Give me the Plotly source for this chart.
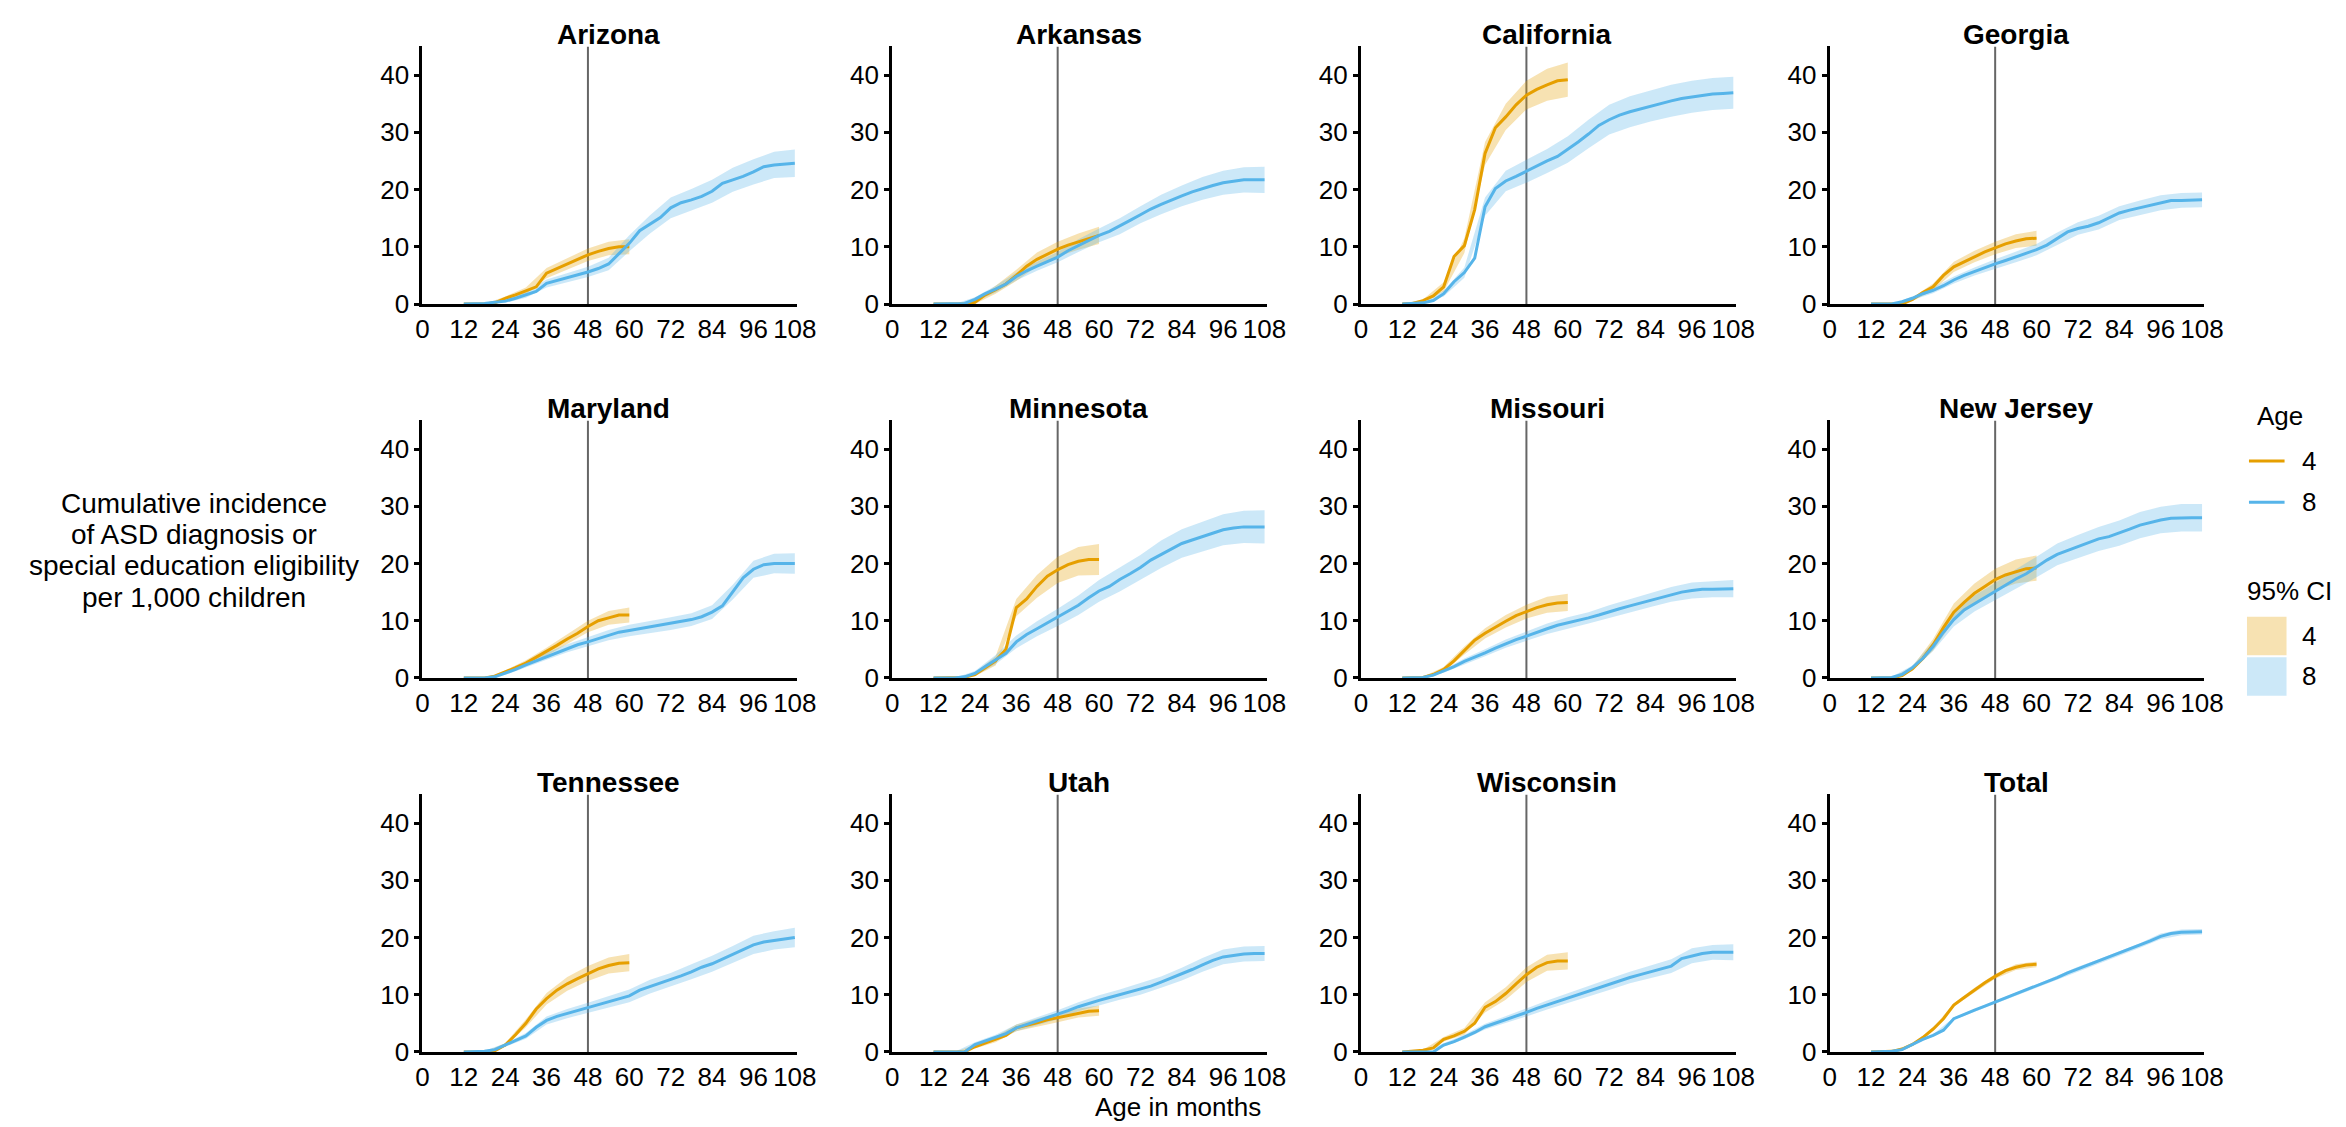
import plotly.graph_objects as go

# ---------------- data ----------------
STATES = ["Arizona", "Arkansas", "California", "Georgia",
          "Maryland", "Minnesota", "Missouri", "New Jersey",
          "Tennessee", "Utah", "Wisconsin", "Total"]

X_TICKS = [0, 12, 24, 36, 48, 60, 72, 84, 96, 108]
Y_TICKS = [0, 10, 20, 30, 40]
REF_MONTH = 48

MONTHS_8 = [12, 15, 18, 21, 24, 27, 30, 33, 36, 39, 42, 45, 48, 51, 54, 57, 60,
            63, 66, 69, 72, 75, 78, 81, 84, 87, 90, 93, 96, 99, 102, 105, 108]
MONTHS_4 = [12, 15, 18, 21, 24, 27, 30, 33, 36, 39, 42, 45, 48, 51, 54, 57, 60]
CI_MONTHS_8 = [12, 18, 24, 30, 36, 42, 48, 54, 60, 66, 72, 78, 84, 90, 96, 102, 108]
CI_MONTHS_4 = [12, 18, 24, 30, 36, 42, 48, 54, 60]

ARIZONA_8 = [0, 0, 0.1, 0.3, 0.5, 1.0, 1.6, 2.2, 3.6, 4.1, 4.6, 5.0, 5.6, 6.2, 7.0, 8.8, 10.6,
             12.8, 13.9, 15.1, 16.8, 17.7, 18.2, 18.8, 19.7, 21.1, 21.7, 22.3, 23.1, 24.0, 24.3, 24.5, 24.6]
ARIZONA_8_LO = [0, 0, 0.2, 1.1, 2.9, 3.8, 4.7, 5.9, 9.2, 12.3, 15.0, 16.3, 17.7, 19.6, 20.9, 22.0, 22.2]
ARIZONA_8_HI = [0, 0.2, 0.8, 2.1, 4.3, 5.4, 6.5, 8.1, 12.0, 15.5, 18.6, 20.1, 21.7, 23.8, 25.3, 26.6, 27.0]
ARIZONA_4 = [0, 0, 0, 0.2, 1.0, 1.6, 2.3, 3.0, 5.4, 6.2, 7.0, 7.9, 8.6, 9.2, 9.7, 10.0, 10.0]
ARIZONA_4_LO = [0, 0, 0.7, 1.7, 4.5, 6.0, 7.5, 8.5, 8.7]
ARIZONA_4_HI = [0, 0, 1.3, 2.9, 6.3, 8.0, 9.7, 10.9, 11.3]

ARKANSAS_8 = [0, 0, 0, 0.1, 0.8, 1.8, 2.6, 3.5, 4.8, 5.8, 6.6, 7.4, 8.2, 9.3, 10.2, 11.0, 12.0,
              12.7, 13.6, 14.6, 15.6, 16.6, 17.4, 18.2, 18.9, 19.6, 20.2, 20.7, 21.2, 21.5, 21.7, 21.7, 21.7]
ARKANSAS_8_LO = [0, 0, 0.4, 2.0, 4.1, 5.8, 7.3, 9.1, 10.8, 12.2, 14.1, 15.7, 17.1, 18.2, 19.1, 19.5, 19.4]
ARKANSAS_8_HI = [0, 0, 1.2, 3.2, 5.5, 7.4, 9.1, 11.3, 13.2, 15.0, 17.1, 19.1, 20.7, 22.2, 23.3, 23.9, 24.0]
ARKANSAS_4 = [0, 0, 0, 0, 0.3, 1.6, 2.5, 3.5, 5.0, 6.6, 7.8, 8.7, 9.6, 10.3, 10.9, 11.5, 12.0]
ARKANSAS_4_LO = [0, 0, 0, 1.8, 4.0, 6.6, 8.3, 9.5, 10.5]
ARKANSAS_4_HI = [0, 0, 0.6, 3.2, 6.0, 9.0, 10.9, 12.3, 13.5]

CALIFORNIA_8 = [0, 0.05, 0.2, 0.6, 1.8, 3.9, 5.5, 8.0, 17.0, 20.2, 21.5, 22.3, 23.2, 24.2, 25.0, 25.8, 27.0,
                28.3, 29.7, 31.2, 32.2, 33.0, 33.6, 34.1, 34.6, 35.1, 35.5, 35.9, 36.2, 36.5, 36.7, 36.8, 36.9]
CALIFORNIA_8_LO = [0, 0.1, 1.3, 4.6, 15.4, 19.7, 21.2, 22.9, 24.7, 27.2, 29.6, 30.9, 31.9, 32.7, 33.4, 33.9, 34.1]
CALIFORNIA_8_HI = [0, 0.3, 2.3, 6.4, 18.6, 23.3, 25.2, 27.1, 29.3, 32.2, 34.8, 36.3, 37.3, 38.3, 39.0, 39.5, 39.7]
CALIFORNIA_4 = [0, 0.1, 0.6, 1.4, 3.0, 8.3, 10.2, 16.5, 26.3, 30.8, 32.7, 34.8, 36.5, 37.5, 38.3, 39.0, 39.2]
CALIFORNIA_4_LO = [0, 0.4, 2.2, 8.9, 24.3, 30.4, 34.0, 35.5, 36.2]
CALIFORNIA_4_HI = [0, 0.8, 3.8, 11.5, 28.3, 35.0, 39.0, 41.1, 42.2]

GEORGIA_8 = [0, 0, 0, 0.4, 1.0, 1.8, 2.4, 3.2, 4.2, 5.0, 5.7, 6.3, 7.0, 7.6, 8.2, 8.8, 9.5,
             10.3, 11.4, 12.6, 13.2, 13.6, 14.2, 15.0, 15.9, 16.4, 16.8, 17.3, 17.7, 18.1, 18.1, 18.2, 18.2]
GEORGIA_8_LO = [0, 0, 0.7, 1.9, 3.6, 5.0, 6.2, 7.3, 8.5, 10.3, 12.1, 13.0, 14.7, 15.5, 16.4, 16.8, 16.9]
GEORGIA_8_HI = [0, 0, 1.3, 2.9, 4.8, 6.4, 7.8, 9.1, 10.5, 12.5, 14.3, 15.4, 17.1, 18.1, 19.0, 19.4, 19.5]
GEORGIA_4 = [0, 0, 0, 0, 0.8, 2.0, 3.0, 5.0, 6.5, 7.4, 8.3, 9.1, 9.8, 10.5, 11.0, 11.4, 11.5]
GEORGIA_4_LO = [0, 0, 0.5, 2.4, 5.6, 7.3, 8.7, 9.8, 10.2]
GEORGIA_4_HI = [0, 0, 1.1, 3.6, 7.4, 9.3, 10.9, 12.2, 12.8]

MARYLAND_8 = [0, 0, 0, 0.2, 0.8, 1.5, 2.3, 3.0, 3.8, 4.5, 5.2, 5.8, 6.3, 6.9, 7.5, 8.0, 8.3,
              8.6, 8.9, 9.2, 9.5, 9.9, 10.2, 10.7, 11.5, 12.6, 15.0, 17.5, 19.0, 19.8, 20.0, 20.0, 20.0]
MARYLAND_8_LO = [0, 0, 0.5, 1.8, 3.2, 4.5, 5.5, 6.6, 7.3, 7.9, 8.4, 9.1, 10.3, 13.7, 17.5, 18.3, 18.2]
MARYLAND_8_HI = [0, 0, 1.1, 2.8, 4.4, 5.9, 7.1, 8.4, 9.3, 9.9, 10.6, 11.3, 12.7, 16.3, 20.5, 21.7, 21.8]
MARYLAND_4 = [0, 0, 0, 0.3, 1.0, 1.8, 2.6, 3.6, 4.6, 5.7, 6.8, 7.8, 9.0, 10.0, 10.5, 11.0, 11.0]
MARYLAND_4_LO = [0, 0, 0.7, 2.1, 3.9, 5.9, 8.0, 9.3, 9.7]
MARYLAND_4_HI = [0, 0, 1.3, 3.1, 5.3, 7.7, 10.0, 11.7, 12.3]

MINNESOTA_8 = [0, 0, 0, 0.2, 0.8, 2.0, 3.2, 4.3, 6.3, 7.6, 8.6, 9.6, 10.6, 11.6, 12.7, 14.0, 15.2,
               16.0, 17.2, 18.2, 19.3, 20.6, 21.6, 22.6, 23.5, 24.1, 24.7, 25.3, 25.9, 26.2, 26.4, 26.4, 26.4]
MINNESOTA_8_LO = [0, 0, 0.4, 2.4, 5.2, 7.3, 9.1, 11.0, 13.3, 15.1, 17.1, 19.2, 21.0, 22.1, 23.2, 23.6, 23.5]
MINNESOTA_8_HI = [0, 0, 1.2, 4.0, 7.4, 9.9, 12.1, 14.4, 17.1, 19.3, 21.5, 24.0, 26.0, 27.3, 28.6, 29.2, 29.3]
MINNESOTA_4 = [0, 0, 0, 0.1, 0.6, 1.8, 3.0, 5.0, 12.3, 13.8, 16.0, 17.8, 18.9, 19.8, 20.4, 20.7, 20.7]
MINNESOTA_4_LO = [0, 0, 0.3, 2.2, 10.8, 14.0, 16.6, 17.9, 18.0]
MINNESOTA_4_HI = [0, 0, 0.9, 3.8, 13.8, 18.0, 21.2, 22.9, 23.4]

MISSOURI_8 = [0, 0, 0.1, 0.5, 1.2, 2.0, 2.9, 3.6, 4.4, 5.2, 6.0, 6.7, 7.3, 8.0, 8.6, 9.2, 9.6,
              10.0, 10.5, 11.0, 11.6, 12.1, 12.6, 13.1, 13.6, 14.1, 14.6, 15.0, 15.3, 15.5, 15.5, 15.6, 15.6]
MISSOURI_8_LO = [0, 0, 0.9, 2.4, 3.8, 5.3, 6.5, 7.7, 8.6, 9.5, 10.5, 11.4, 12.4, 13.3, 13.9, 14.1, 14.1]
MISSOURI_8_HI = [0, 0.2, 1.5, 3.4, 5.0, 6.7, 8.1, 9.5, 10.6, 11.5, 12.7, 13.8, 14.8, 15.9, 16.7, 16.9, 17.1]
MISSOURI_4 = [0, 0, 0.1, 0.6, 1.5, 3.0, 4.8, 6.6, 7.8, 8.9, 9.9, 10.9, 11.6, 12.3, 12.8, 13.1, 13.2]
MISSOURI_4_LO = [0, 0, 1.1, 4.1, 6.9, 8.8, 10.4, 11.4, 11.7]
MISSOURI_4_HI = [0, 0.2, 1.9, 5.5, 8.7, 11.0, 12.8, 14.2, 14.7]

NEW_JERSEY_8 = [0, 0, 0.1, 0.6, 1.8, 3.4, 5.5, 8.0, 10.2, 11.9, 13.0, 14.0, 15.1, 16.2, 17.3, 18.2, 19.4,
                20.6, 21.6, 22.3, 23.0, 23.6, 24.3, 24.7, 25.3, 26.0, 26.7, 27.2, 27.6, 27.9, 28.0, 28.0, 28.0]
NEW_JERSEY_8_LO = [0, 0, 1.4, 4.7, 9.0, 11.6, 13.6, 15.6, 17.6, 19.7, 21.0, 22.2, 23.1, 24.4, 25.3, 25.6, 25.6]
NEW_JERSEY_8_HI = [0, 0.2, 2.2, 6.3, 11.4, 14.4, 16.6, 19.0, 21.2, 23.5, 25.0, 26.4, 27.5, 29.0, 29.9, 30.4, 30.4]
NEW_JERSEY_4 = [0, 0, 0, 0.4, 1.6, 3.4, 5.8, 8.8, 11.5, 13.2, 14.8, 16.0, 17.2, 18.0, 18.6, 19.1, 19.2]
NEW_JERSEY_4_LO = [0, 0, 1.2, 4.8, 10.0, 13.1, 15.3, 16.5, 17.0]
NEW_JERSEY_4_HI = [0, 0, 2.0, 6.8, 13.0, 16.5, 19.1, 20.7, 21.4]

TENNESSEE_8 = [0, 0, 0.1, 0.4, 1.2, 2.0, 2.8, 4.3, 5.5, 6.2, 6.7, 7.2, 7.7, 8.3, 8.8, 9.3, 9.8,
               10.8, 11.4, 12.0, 12.6, 13.3, 14.0, 14.8, 15.4, 16.2, 17.0, 17.8, 18.7, 19.2, 19.5, 19.8, 20.0]
TENNESSEE_8_LO = [0, 0, 0.9, 2.3, 4.8, 5.9, 6.8, 7.8, 8.7, 10.2, 11.4, 12.7, 14.0, 15.5, 17.1, 17.9, 18.3]
TENNESSEE_8_HI = [0, 0.2, 1.5, 3.3, 6.2, 7.5, 8.6, 9.8, 10.9, 12.6, 13.8, 15.3, 16.8, 18.5, 20.3, 21.1, 21.7]
TENNESSEE_4 = [0, 0, 0, 0.2, 1.2, 3.0, 5.0, 7.5, 9.3, 10.8, 11.9, 12.8, 13.7, 14.5, 15.1, 15.5, 15.6]
TENNESSEE_4_LO = [0, 0, 0.9, 4.3, 8.3, 10.7, 12.4, 13.7, 14.1]
TENNESSEE_4_HI = [0, 0, 1.5, 5.7, 10.3, 13.1, 15.0, 16.5, 17.1]

UTAH_8 = [0, 0, 0, 0, 1.3, 1.9, 2.5, 3.2, 4.2, 4.8, 5.3, 5.9, 6.5, 7.2, 7.9, 8.5, 9.0,
          9.5, 10.0, 10.6, 11.0, 11.5, 12.2, 12.9, 13.6, 14.4, 15.2, 16.0, 16.6, 16.9, 17.1, 17.2, 17.2]
UTAH_8_LO = [0, 0, 0.9, 2.0, 3.6, 4.6, 5.7, 7.1, 8.1, 9.1, 10.0, 11.2, 12.5, 14.0, 15.3, 15.8, 15.9]
UTAH_8_HI = [0, 0, 1.7, 3.0, 4.8, 6.0, 7.3, 8.7, 9.9, 10.9, 12.0, 13.2, 14.7, 16.4, 17.9, 18.4, 18.5]
UTAH_4 = [0, 0, 0, 0, 0.9, 1.6, 2.2, 2.9, 4.2, 4.6, 5.1, 5.6, 6.0, 6.4, 6.8, 7.1, 7.2]
UTAH_4_LO = [0, 0, 0.6, 1.7, 3.6, 4.4, 5.2, 6.0, 6.3]
UTAH_4_HI = [0, 0, 1.2, 2.7, 4.8, 5.8, 6.8, 7.6, 8.1]

WISCONSIN_8 = [0, 0, 0, 0, 1.2, 1.8, 2.6, 3.4, 4.4, 5.0, 5.6, 6.2, 6.9, 7.6, 8.2, 8.9, 9.4,
               10.0, 10.6, 11.2, 11.8, 12.4, 13.0, 13.5, 14.0, 14.5, 15.0, 16.3, 16.8, 17.2, 17.4, 17.4, 17.4]
WISCONSIN_8_LO = [0, 0, 0.9, 2.2, 3.9, 5.0, 6.2, 7.4, 8.5, 9.7, 10.8, 12.0, 12.9, 13.8, 15.5, 16.1, 16.0]
WISCONSIN_8_HI = [0, 0, 1.5, 3.0, 4.9, 6.2, 7.6, 9.0, 10.3, 11.5, 12.8, 14.0, 15.1, 16.2, 18.1, 18.7, 18.8]
WISCONSIN_4 = [0, 0.1, 0.3, 0.7, 2.2, 2.8, 3.6, 5.0, 7.8, 8.8, 10.2, 11.9, 13.5, 14.8, 15.6, 15.9, 15.9]
WISCONSIN_4_LO = [0, 0.2, 1.8, 3.0, 6.9, 9.1, 12.2, 14.2, 14.4]
WISCONSIN_4_HI = [0, 0.4, 2.6, 4.2, 8.7, 11.3, 14.8, 17.0, 17.4]

TOTAL_8 = [0, 0, 0.1, 0.4, 1.3, 2.2, 2.9, 3.8, 5.8, 6.6, 7.3, 8.0, 8.7, 9.4, 10.1, 10.8, 11.5,
           12.3, 13.0, 13.8, 14.5, 15.1, 15.8, 16.5, 17.2, 17.9, 18.6, 19.4, 20.2, 20.7, 20.9, 21.0, 21.0]
TOTAL_8_LO = [0, 0.1, 1.2, 2.7, 5.6, 7.1, 8.4, 9.8, 11.2, 12.7, 14.1, 15.4, 16.8, 18.2, 19.7, 20.4, 20.5]
TOTAL_8_HI = [0, 0.1, 1.4, 3.1, 6.0, 7.5, 9.0, 10.4, 11.8, 13.3, 14.9, 16.2, 17.6, 19.0, 20.7, 21.4, 21.5]
TOTAL_4 = [0, 0, 0.1, 0.5, 1.3, 2.5, 4.0, 5.8, 8.2, 9.5, 10.8, 12.1, 13.2, 14.2, 14.8, 15.2, 15.3]
TOTAL_4_LO = [0, 0.1, 1.2, 3.8, 7.9, 10.4, 12.8, 14.3, 14.8]
TOTAL_4_HI = [0, 0.1, 1.4, 4.2, 8.5, 11.2, 13.6, 15.3, 15.8]

SERIES = {
    "Arizona": (ARIZONA_4, ARIZONA_4_LO, ARIZONA_4_HI, ARIZONA_8, ARIZONA_8_LO, ARIZONA_8_HI),
    "Arkansas": (ARKANSAS_4, ARKANSAS_4_LO, ARKANSAS_4_HI, ARKANSAS_8, ARKANSAS_8_LO, ARKANSAS_8_HI),
    "California": (CALIFORNIA_4, CALIFORNIA_4_LO, CALIFORNIA_4_HI, CALIFORNIA_8, CALIFORNIA_8_LO, CALIFORNIA_8_HI),
    "Georgia": (GEORGIA_4, GEORGIA_4_LO, GEORGIA_4_HI, GEORGIA_8, GEORGIA_8_LO, GEORGIA_8_HI),
    "Maryland": (MARYLAND_4, MARYLAND_4_LO, MARYLAND_4_HI, MARYLAND_8, MARYLAND_8_LO, MARYLAND_8_HI),
    "Minnesota": (MINNESOTA_4, MINNESOTA_4_LO, MINNESOTA_4_HI, MINNESOTA_8, MINNESOTA_8_LO, MINNESOTA_8_HI),
    "Missouri": (MISSOURI_4, MISSOURI_4_LO, MISSOURI_4_HI, MISSOURI_8, MISSOURI_8_LO, MISSOURI_8_HI),
    "New Jersey": (NEW_JERSEY_4, NEW_JERSEY_4_LO, NEW_JERSEY_4_HI, NEW_JERSEY_8, NEW_JERSEY_8_LO, NEW_JERSEY_8_HI),
    "Tennessee": (TENNESSEE_4, TENNESSEE_4_LO, TENNESSEE_4_HI, TENNESSEE_8, TENNESSEE_8_LO, TENNESSEE_8_HI),
    "Utah": (UTAH_4, UTAH_4_LO, UTAH_4_HI, UTAH_8, UTAH_8_LO, UTAH_8_HI),
    "Wisconsin": (WISCONSIN_4, WISCONSIN_4_LO, WISCONSIN_4_HI, WISCONSIN_8, WISCONSIN_8_LO, WISCONSIN_8_HI),
    "Total": (TOTAL_4, TOTAL_4_LO, TOTAL_4_HI, TOTAL_8, TOTAL_8_LO, TOTAL_8_HI),
}

# ---------------- styling / layout ----------------
W, H = 2346, 1127
FONT = "Arial, Liberation Sans, sans-serif"
ORANGE = "#E69F00"
BLUE = "#56B4E9"
ORANGE_FILL = "rgba(230,159,0,0.30)"
BLUE_FILL = "rgba(86,180,233,0.30)"

COL_LEFT = [412, 887, 1361, 1835]     # pixel x of month 0
ROW_BOTTOM = [300, 679, 1058]         # pixel y of value 0
PANEL_W = 379
PANEL_H = 261
X_MAX = 108.7
Y_MAX = 45


def px(x):
    return x / W


def py(y):
    return 1 - y / H


fig = go.Figure()
annotations = []
shapes = []
layout_axes = {}

for i, state in enumerate(STATES):
    r, c = divmod(i, 4)
    n = i + 1
    xa = "x" if n == 1 else f"x{n}"
    ya = "y" if n == 1 else f"y{n}"
    v4, lo4, hi4, v8, lo8, hi8 = SERIES[state]

    common = dict(xaxis=xa, yaxis=ya, showlegend=False, hoverinfo="skip")
    fig.add_trace(go.Scatter(x=CI_MONTHS_4 + CI_MONTHS_4[::-1], y=hi4 + lo4[::-1],
                             fill="toself", fillcolor=ORANGE_FILL, mode="lines",
                             line=dict(width=0), **common))
    fig.add_trace(go.Scatter(x=CI_MONTHS_8 + CI_MONTHS_8[::-1], y=hi8 + lo8[::-1],
                             fill="toself", fillcolor=BLUE_FILL, mode="lines",
                             line=dict(width=0), **common))
    fig.add_trace(go.Scatter(x=MONTHS_4, y=v4, mode="lines", cliponaxis=False,
                             line=dict(color=ORANGE, width=3), **common))
    fig.add_trace(go.Scatter(x=MONTHS_8, y=v8, mode="lines", cliponaxis=False,
                             line=dict(color=BLUE, width=3), **common))

    left = COL_LEFT[c]
    bottom = ROW_BOTTOM[r]
    top = bottom - PANEL_H
    layout_axes["xaxis" if n == 1 else f"xaxis{n}"] = dict(
        domain=[px(left), px(left + PANEL_W)], anchor=ya, range=[0, X_MAX],
        tickvals=X_TICKS, ticktext=[str(t) for t in X_TICKS],
        showline=True, linecolor="black", linewidth=3, ticks="",
        showgrid=False, zeroline=False, fixedrange=True,
        tickfont=dict(family=FONT, size=26, color="black"))
    layout_axes["yaxis" if n == 1 else f"yaxis{n}"] = dict(
        domain=[py(bottom), py(top)], anchor=xa, range=[0, Y_MAX],
        tickvals=Y_TICKS, ticktext=[str(t) for t in Y_TICKS],
        showline=True, linecolor="black", linewidth=3, ticks="outside",
        ticklen=5, tickwidth=3, tickcolor="black",
        showgrid=False, zeroline=False, fixedrange=True,
        tickfont=dict(family=FONT, size=26, color="black"))

    shapes.append(dict(type="line", xref=xa, yref=ya, x0=REF_MONTH, x1=REF_MONTH,
                       y0=0, y1=Y_MAX, line=dict(color="#666666", width=2), layer="below"))
    annotations.append(dict(text=f"<b>{state}</b>", xref="paper", yref="paper",
                            x=px(left + PANEL_W / 2 - 1), y=py(top - 12), xanchor="center",
                            yanchor="middle", showarrow=False,
                            font=dict(family=FONT, size=28, color="black")))

# y-axis title (four centred lines)
Y_TITLE = ["Cumulative incidence", "of ASD diagnosis or",
           "special education eligibility", "per 1,000 children"]
for k, line in enumerate(Y_TITLE):
    annotations.append(dict(text=line, xref="paper", yref="paper", x=px(181),
                            y=py(502 + k * 31.7), xanchor="center", yanchor="middle",
                            showarrow=False, font=dict(family=FONT, size=28, color="black")))

# x-axis title
annotations.append(dict(text="Age in months", xref="paper", yref="paper", x=px(1176),
                        y=py(1114), xanchor="center", yanchor="middle", showarrow=False,
                        font=dict(family=FONT, size=26, color="black")))

# legend (drawn manually)
LEG_FONT = dict(family=FONT, size=26, color="black")
annotations.append(dict(text="Age", xref="paper", yref="paper", x=px(2265), y=py(414),
                        xanchor="left", yanchor="middle", showarrow=False, font=LEG_FONT))
for label, color, yy in [("4", ORANGE, 459), ("8", BLUE, 501)]:
    shapes.append(dict(type="line", xref="paper", yref="paper", x0=px(2259), x1=px(2295),
                       y0=py(yy), y1=py(yy), line=dict(color=color, width=3)))
    annotations.append(dict(text=label, xref="paper", yref="paper", x=px(2311), y=py(yy),
                            xanchor="left", yanchor="middle", showarrow=False, font=LEG_FONT))
annotations.append(dict(text="95% CI", xref="paper", yref="paper", x=px(2255), y=py(591),
                        xanchor="left", yanchor="middle", showarrow=False, font=LEG_FONT))
for label, color, y0, y1 in [("4", ORANGE_FILL, 617, 656), ("8", BLUE_FILL, 658, 697)]:
    shapes.append(dict(type="rect", xref="paper", yref="paper", x0=px(2257), x1=px(2297),
                       y0=py(y0), y1=py(y1), fillcolor=color, line=dict(width=0)))
    annotations.append(dict(text=label, xref="paper", yref="paper", x=px(2311),
                            y=py((y0 + y1) / 2), xanchor="left", yanchor="middle",
                            showarrow=False, font=LEG_FONT))

fig.update_layout(
    width=W, height=H,
    margin=dict(l=0, r=0, t=0, b=0),
    paper_bgcolor="white", plot_bgcolor="white",
    showlegend=False,
    annotations=annotations,
    shapes=shapes,
    font=dict(family=FONT, color="black"),
    **layout_axes,
)

fig.write_html("out.html")
